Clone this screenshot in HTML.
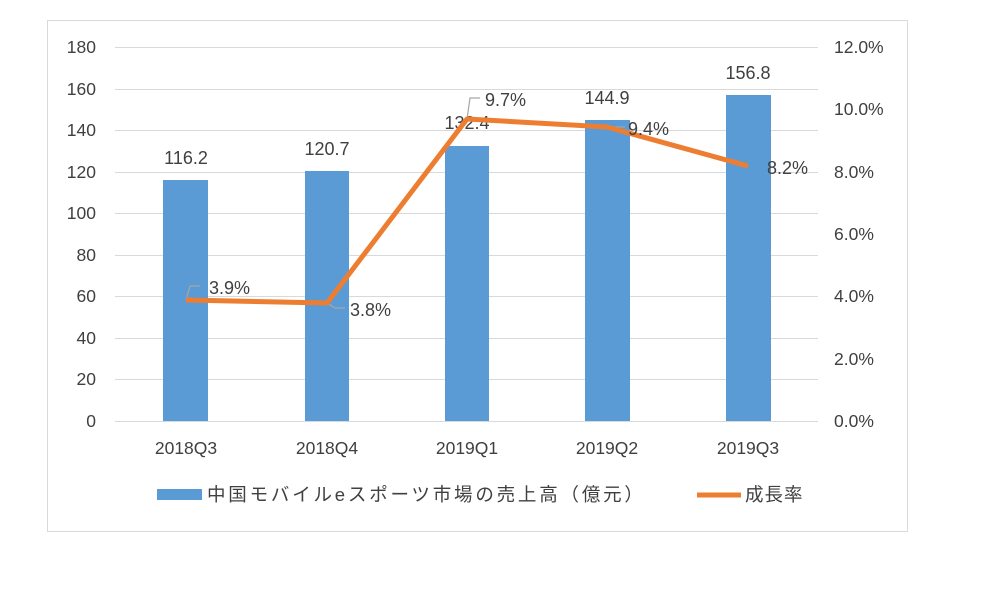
<!DOCTYPE html>
<html><head><meta charset="utf-8"><style>body{margin:0;background:#fff}svg{display:block}</style></head><body>
<svg width="989" height="592" xmlns="http://www.w3.org/2000/svg" font-family="Liberation Sans, Noto Sans CJK JP, sans-serif">
<rect x="47.5" y="20.5" width="860" height="511" fill="#fff" stroke="#d9d9d9"/>
<g stroke="#d9d9d9" stroke-width="1">
<line x1="115" x2="818" y1="47.5" y2="47.5"/><line x1="115" x2="818" y1="89.5" y2="89.5"/><line x1="115" x2="818" y1="130.5" y2="130.5"/><line x1="115" x2="818" y1="172.5" y2="172.5"/><line x1="115" x2="818" y1="213.5" y2="213.5"/><line x1="115" x2="818" y1="255.5" y2="255.5"/><line x1="115" x2="818" y1="296.5" y2="296.5"/><line x1="115" x2="818" y1="338.5" y2="338.5"/><line x1="115" x2="818" y1="379.5" y2="379.5"/><line x1="115" x2="818" y1="421.5" y2="421.5"/>
</g>
<g font-size="17.5" fill="#404040" text-anchor="end">
<text x="96" y="53">180</text><text x="96" y="95">160</text><text x="96" y="136">140</text><text x="96" y="178">120</text><text x="96" y="219">100</text><text x="96" y="261">80</text><text x="96" y="302">60</text><text x="96" y="344">40</text><text x="96" y="385">20</text><text x="96" y="427">0</text>
</g>
<g font-size="17.5" fill="#404040" text-anchor="start">
<text x="834" y="53">12.0%</text><text x="834" y="115">10.0%</text><text x="834" y="178">8.0%</text><text x="834" y="240">6.0%</text><text x="834" y="302">4.0%</text><text x="834" y="365">2.0%</text><text x="834" y="427">0.0%</text>
</g>
<g fill="#5b9bd5">
<rect x="163" y="180" width="45" height="241"/><rect x="305" y="171" width="44" height="250"/><rect x="445" y="146" width="44" height="275"/><rect x="585" y="120" width="45" height="301"/><rect x="726" y="95" width="45" height="326"/>
</g>
<g font-size="18" fill="#404040" text-anchor="middle">
<text x="186" y="164">116.2</text><text x="327" y="155">120.7</text><text x="467" y="129">132.4</text><text x="607" y="104">144.9</text><text x="748" y="79">156.8</text>
</g>
<g font-size="17.5" fill="#404040" text-anchor="middle">
<text x="186" y="454">2018Q3</text><text x="327" y="454">2018Q4</text><text x="467" y="454">2019Q1</text><text x="607" y="454">2019Q2</text><text x="748" y="454">2019Q3</text>
</g>
<g stroke="#a6a6a6" fill="none" stroke-width="1.2">
<polyline points="186,300 190,286 200,286"/><polyline points="327,303 335,308 345,308"/><polyline points="467,119 470,98 480,98"/><polyline points="607,127 625,127"/>
</g>
<polyline points="186,300 327,303 467,119 607,127 748,166" fill="none" stroke="#ed7d31" stroke-width="5" stroke-linejoin="round"/>
<g font-size="18" fill="#404040">
<text x="209" y="294">3.9%</text><text x="350" y="316">3.8%</text><text x="485" y="106">9.7%</text><text x="628" y="135">9.4%</text><text x="767" y="174">8.2%</text>
</g>
<rect x="157" y="489" width="45" height="11" fill="#5b9bd5"/>
<text x="207" y="501" font-size="18.5" letter-spacing="2.8" fill="#404040">中国モバイルeスポーツ市場の売上高（億元）</text>
<line x1="697" x2="741" y1="495" y2="495" stroke="#ed7d31" stroke-width="5"/>
<text x="745" y="501" font-size="18.5" letter-spacing="1" fill="#404040">成長率</text>
</svg>
</body></html>
